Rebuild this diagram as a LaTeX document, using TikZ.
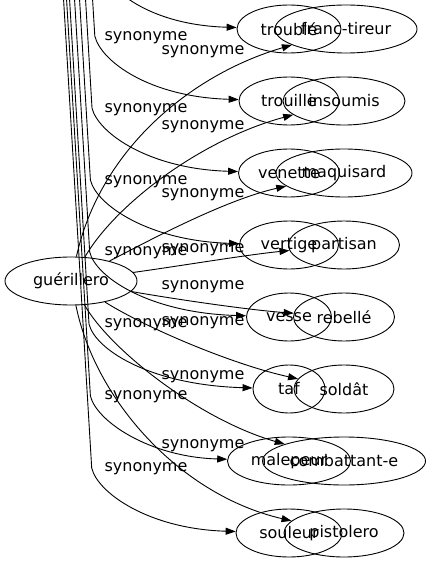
\documentclass[tikz,border=0pt]{standalone}
\usepackage{fontspec}
\setmainfont{DejaVu Sans}
\usetikzlibrary{shapes.geometric}
\usetikzlibrary{arrows.meta}
\usetikzlibrary{positioning}

\begin{document}
\begin{tikzpicture}[x=1bp,y=-1bp,>={Triangle[length=10bp,width=7bp]},line width=0.9bp,
    word node/.style={ellipse,draw,inner sep=0pt,minimum height=48bp,font=\fontsize{16bp}{19bp}\selectfont},
    syn label/.style={inner sep=0pt,font=\fontsize{16bp}{19bp}\selectfont},
    syn/.style={->}]
  \useasboundingbox (0,0) rectangle (431,563);
  \clip (0,0) rectangle (431,563);
  \begin{scope}
    % first graph, its source lies above the picture
    \coordinate (top1) at (95,-120);
    \coordinate (top2) at (92,-10);
    \coordinate (top3) at (85,-10);
    \coordinate (top4) at (79,-10);
    \coordinate (top5) at (74,-10);
    \coordinate (top6) at (69,-10);
    \coordinate (top7) at (66,-10);
    \coordinate (top8) at (63,-10);
    \node[word node,minimum width=104bp] (trouble) at (289,29) {troublé};
    \node[word node,minimum width=100bp] (trouille) at (289,101) {trouille};
    \node[word node,minimum width=101bp] (venette) at (289,173) {venette};
    \node[word node,minimum width=99bp] (vertige) at (289,245) {vertige};
    \node[word node,minimum width=85bp] (vesse) at (289,317) {vesse};
    \node[word node,minimum width=72bp] (taf) at (289,389) {taf};
    \node[word node,minimum width=123bp] (malepeur) at (289,461) {malepeur};
    \node[word node,minimum width=106bp] (souleur) at (289,533) {souleur};
    \draw[syn] (top1) -- (100,-36) .. controls +(6,25) and +(-140,-4) .. (trouble);
    \draw[syn] (top2) -- (94.8,36) .. controls +(6,25) and +(-140,-4) .. (trouille);
    \draw[syn] (top3) -- (92,108) .. controls +(6,25) and +(-140,-4) .. (venette);
    \draw[syn] (top4) -- (90.4,180) .. controls +(6,25) and +(-140,-4) .. (vertige);
    \draw[syn] (top5) -- (89.7,252) .. controls +(6,25) and +(-140,-4) .. (vesse);
    \draw[syn] (top6) -- (89,324) .. controls +(6,25) and +(-140,-4) .. (taf);
    \draw[syn] (top7) -- (90.4,396) .. controls +(6,25) and +(-140,-4) .. (malepeur);
    \draw[syn] (top8) -- (91.7,468) .. controls +(6,25) and +(-140,-4) .. (souleur);
    \node[syn label] (l2) at (146,38) {synonyme};
    \node[syn label] (l3) at (146,110) {synonyme};
    \node[syn label] (l4) at (146,182) {synonyme};
    \node[syn label] (l5) at (146,253) {synonyme};
    \node[syn label] (l6) at (146,325) {synonyme};
    \node[syn label] (l7) at (146,397) {synonyme};
    \node[syn label] (l8) at (146,469) {synonyme};
  \end{scope}
  \begin{scope}
    % second graph
    \node[word node,minimum width=132bp] (guerillero) at (71,281) {guérillero};
    \node[word node,minimum width=142bp] (franctireur) at (346,29) {franc-tireur};
    \node[word node,minimum width=122bp] (insoumis) at (344,101) {insoumis};
    \node[word node,minimum width=136bp] (maquisard) at (344,173) {maquisard};
    \node[word node,minimum width=111bp] (partisan) at (344,245) {partisan};
    \node[word node,minimum width=101bp] (rebelle) at (344,317) {rebellé};
    \node[word node,minimum width=100bp] (soldat) at (344,389) {soldât};
    \node[word node,minimum width=163bp] (combattant) at (344,461) {combattant-e};
    \node[word node,minimum width=120bp] (pistolero) at (344,533) {pistolero};
    \draw[syn] (guerillero) .. controls (100,150) and (190,75) .. (franctireur);
    \draw[syn] (guerillero) .. controls (115,205) and (200,140) .. (insoumis);
    \draw[syn] (guerillero) .. controls (150,240) and (225,200) .. (maquisard);
    \draw[syn] (guerillero) .. controls (180,266) and (245,255) .. (partisan);
    \draw[syn] (guerillero) .. controls (180,300) and (250,310) .. (rebelle);
    \draw[syn] (guerillero) .. controls (150,330) and (235,365) .. (soldat);
    \draw[syn] (guerillero) .. controls (110,350) and (200,420) .. (combattant);
    \draw[syn] (guerillero) .. controls (95,400) and (180,495) .. (pistolero);
    \node[syn label] (m1) at (203,52) {synonyme};
    \node[syn label] (m2) at (203,127) {synonyme};
    \node[syn label] (m3) at (203,195) {synonyme};
    \node[syn label] (m4) at (203,250) {synonyme};
    \node[syn label] (m5) at (203,287) {synonyme};
    \node[syn label] (m6) at (203,323) {synonyme};
    \node[syn label] (m7) at (203,377) {synonyme};
    \node[syn label] (m8) at (203,446) {synonyme};
  \end{scope}
\end{tikzpicture}
\end{document}
